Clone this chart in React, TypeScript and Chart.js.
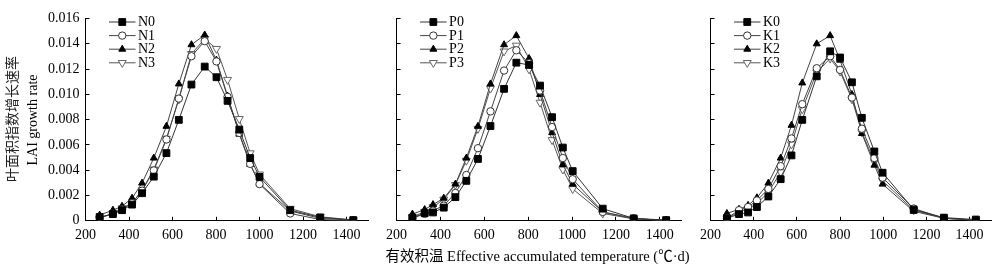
import React, { useEffect, useRef } from "react";
import { Chart, registerables } from "chart.js";
import { drawPoint } from "chart.js/helpers";

Chart.register(...registerables);

// ---------- data ----------
const X_N = [265, 326, 368, 414, 460, 514, 572, 629, 687, 748, 802, 853, 907, 957, 1000, 1141, 1279, 1431];
const N0 = [0.0003, 0.00053, 0.00084, 0.00128, 0.00218, 0.00349, 0.00535, 0.00798, 0.01077, 0.01219, 0.01135, 0.00948, 0.00721, 0.00496, 0.00347, 0.00084, 0.00027, 0.00006];
const N1 = [0.00024, 0.00055, 0.0009, 0.0014, 0.00238, 0.00398, 0.00643, 0.00966, 0.01301, 0.0142, 0.0126, 0.0098, 0.00695, 0.0045, 0.0029, 0.00058, 0.0001, 0.0];
const N2 = [0.00045, 0.00084, 0.00115, 0.00179, 0.00298, 0.00496, 0.00747, 0.01082, 0.01392, 0.01469, 0.0127, 0.00986, 0.00685, 0.00445, 0.00295, 0.00078, 0.00019, 0.00005];
const N3 = [0.0002, 0.0006, 0.001, 0.00139, 0.00242, 0.00407, 0.0065, 0.0096, 0.0132, 0.01438, 0.0136, 0.01115, 0.00806, 0.00535, 0.00367, 0.00096, 0.00032, 0.00006];

const X_P = [272, 328, 366, 415, 468, 518, 571, 628, 690, 746, 804, 854, 909, 958, 1003, 1140, 1281, 1429];
const P0 = [0.00025, 0.0006, 0.00066, 0.00104, 0.00187, 0.00316, 0.00489, 0.00749, 0.01043, 0.0125, 0.01232, 0.01069, 0.00819, 0.00579, 0.00393, 0.00096, 0.00019, 0.00006];
const P1 = [0.0002, 0.00055, 0.0008, 0.0012, 0.0022, 0.00362, 0.00574, 0.00865, 0.01188, 0.01348, 0.01245, 0.0103, 0.00741, 0.00496, 0.00329, 0.0007, 0.0002, 0.0];
const P2 = [0.00053, 0.00089, 0.00128, 0.00179, 0.0029, 0.00496, 0.00747, 0.01082, 0.01392, 0.01464, 0.01283, 0.00999, 0.00697, 0.00445, 0.0029, 0.0007, 0.00015, 0.00005];
const P3 = [0.0003, 0.00072, 0.0011, 0.00169, 0.00285, 0.00476, 0.00728, 0.01046, 0.0134, 0.01386, 0.01198, 0.00935, 0.00639, 0.00406, 0.00252, 0.00058, 0.00015, 0.00005];

const X_K = [276, 332, 374, 415, 468, 525, 575, 625, 692, 754, 800, 855, 901, 959, 997, 1141, 1281, 1429];
const K0 = [0.0002, 0.00053, 0.00066, 0.00109, 0.00192, 0.00329, 0.00517, 0.00798, 0.01142, 0.0134, 0.01291, 0.01095, 0.00814, 0.00548, 0.0038, 0.00089, 0.00025, 0.0001];
const K1 = [0.0002, 0.00084, 0.00109, 0.00161, 0.00252, 0.00432, 0.00651, 0.00922, 0.01206, 0.01301, 0.01193, 0.00974, 0.00728, 0.00496, 0.00341, 0.00097, 0.0002, 0.00005];
const K2 = [0.00058, 0.00091, 0.00122, 0.00182, 0.00298, 0.00496, 0.00755, 0.0109, 0.01399, 0.01464, 0.0127, 0.00999, 0.0069, 0.0044, 0.0029, 0.00075, 0.0002, 0.00005];
const K3 = [0.0002, 0.0007, 0.00096, 0.00137, 0.00225, 0.00385, 0.00605, 0.00883, 0.01173, 0.01283, 0.0118, 0.00961, 0.007, 0.00465, 0.00316, 0.00085, 0.0002, 0.00005];

const NAMES_N = ["N0", "N1", "N2", "N3"];
const NAMES_P = ["P0", "P1", "P2", "P3"];
const NAMES_K = ["K0", "K1", "K2", "K3"];

const X_TICK_STEP = 200;
const Y_TICK_STEP = 0.002;

// ---------- styles ----------
const FONT = "'Liberation Serif', 'Times New Roman', 'Noto Sans CJK SC', serif";
const SERIES_STYLE = [
  { pointStyle: "rect", rotation: 0, radius: 4.8, fill: "#000", stroke: "#000", line: "#333" },
  { pointStyle: "circle", rotation: 0, radius: 3.7, fill: "#fff", stroke: "#333", line: "#444" },
  { pointStyle: "triangle", rotation: 0, radius: 4, fill: "#000", stroke: "#000", line: "#444" },
  { pointStyle: "triangle", rotation: 180, radius: 4.6, fill: "#fff", stroke: "#666", line: "#555" },
];

const TOP = 14.2;
const BOTTOM = 220.8;
const H = 275;

type Panel = {
  canvasLeft: number;
  areaLeft: number;
  areaRight: number;
  xs: number[];
  series: number[][];
  names: string[];
  yLabels: boolean;
};

const PANELS: Panel[] = [
  { canvasLeft: 0, areaLeft: 85.5, areaRight: 368.3, xs: X_N, series: [N0, N1, N2, N3], names: NAMES_N, yLabels: true },
  { canvasLeft: 375, areaLeft: 396.6, areaRight: 681.7, xs: X_P, series: [P0, P1, P2, P3], names: NAMES_P, yLabels: false },
  { canvasLeft: 690, areaLeft: 706.1, areaRight: 991.2, xs: X_K, series: [K0, K1, K2, K3], names: NAMES_K, yLabels: false },
];

const legendPlugin = {
  id: "lineLegend",
  afterDraw(chart: any) {
    const ctx = chart.ctx;
    const left = chart.chartArea.left;
    chart.data.datasets.forEach((ds: any, i: number) => {
      const st = SERIES_STYLE[i];
      const y = 22 + i * 13.6;
      const x1 = left + 23.5;
      const x2 = left + 50;
      ctx.save();
      ctx.strokeStyle = st.line;
      ctx.lineWidth = 1;
      ctx.beginPath();
      ctx.moveTo(x1, y);
      ctx.lineTo(x2, y);
      ctx.stroke();
      ctx.fillStyle = st.fill;
      ctx.strokeStyle = st.stroke;
      drawPoint(ctx, { pointStyle: st.pointStyle, rotation: st.rotation, radius: st.radius, borderWidth: 1 } as any, (x1 + x2) / 2, y);
      ctx.fillStyle = "#000";
      ctx.font = `14px ${FONT}`;
      ctx.textAlign = "left";
      ctx.textBaseline = "middle";
      ctx.fillText(ds.label, x2 + 2.5, y + 0.5);
      ctx.restore();
    });
  },
};

function PanelChart({ panel }: { panel: Panel }) {
  const ref = useRef<HTMLCanvasElement | null>(null);
  const width = Math.round(panel.areaRight - panel.canvasLeft + 12);
  useEffect(() => {
    if (!ref.current) return;
    const yW = panel.areaLeft - panel.canvasLeft;
    const padRight = width - (panel.areaRight - panel.canvasLeft);
    const chart = new Chart(ref.current, {
      type: "line",
      data: {
        datasets: panel.series.map((vals, i) => {
          const st = SERIES_STYLE[i];
          return {
            label: panel.names[i],
            data: panel.xs.map((x, j) => ({ x, y: vals[j] })),
            borderColor: st.line,
            borderWidth: 1,
            pointStyle: st.pointStyle as any,
            pointRotation: st.rotation,
            pointRadius: st.radius,
            pointBackgroundColor: st.fill,
            pointBorderColor: st.stroke,
            pointBorderWidth: 1,
            tension: 0,
            fill: false,
          };
        }),
      },
      options: {
        animation: false,
        responsive: false,
        maintainAspectRatio: false,
        devicePixelRatio: 1,
        layout: { padding: { top: TOP, right: padRight, bottom: 0, left: 0 } },
        plugins: { legend: { display: false }, tooltip: { enabled: false } },
        scales: {
          x: {
            type: "linear",
            min: 200,
            max: 1500,
            ticks: {
              stepSize: X_TICK_STEP,
              includeBounds: false,
              autoSkip: false,
              maxRotation: 0,
              padding: 10,
              color: "#000",
              font: { family: FONT, size: 14 },
              callback: (v: any) => String(Math.round(Number(v))),
            },
            grid: { drawOnChartArea: false, tickLength: -4, color: "#000", lineWidth: 1 },
            border: { color: "#000", width: 1 },
            afterFit: (s: any) => {
              s.height = H - BOTTOM;
            },
          },
          y: {
            type: "linear",
            min: 0,
            max: 0.016,
            ticks: {
              stepSize: Y_TICK_STEP,
              autoSkip: false,
              padding: 10,
              color: "#000",
              font: { family: FONT, size: 14 },
              callback: (v: any) => (panel.yLabels ? (Math.abs(v) < 1e-9 ? "0" : Number(v).toFixed(3)) : ""),
            },
            grid: { drawOnChartArea: false, tickLength: -4, color: "#000", lineWidth: 1 },
            border: { color: "#000", width: 1 },
            afterFit: (s: any) => {
              s.width = yW;
            },
          },
        },
      } as any,
      plugins: [legendPlugin],
    });
    return () => chart.destroy();
  }, [panel, width]);
  return (
    <canvas
      ref={ref}
      width={width}
      height={H}
      style={{ position: "absolute", left: panel.canvasLeft, top: 0, width, height: H }}
    />
  );
}

export default function App() {
  return (
    <div style={{ position: "absolute", left: 0, top: 0, width: 1000, height: 275, background: "#fff", overflow: "hidden" }}>
      {PANELS.map((p, i) => (
        <PanelChart key={i} panel={p} />
      ))}
      <div
        style={{
          position: "absolute",
          left: 13,
          top: 118.5,
          transform: "translate(-50%, -50%) rotate(-90deg)",
          whiteSpace: "nowrap",
          font: `14px ${FONT}`,
          lineHeight: "14px",
          color: "#222",
        }}
      >
        叶面积指数增长速率
      </div>
      <div
        style={{
          position: "absolute",
          left: 33,
          top: 119.5,
          transform: "translate(-50%, -50%) rotate(-90deg)",
          whiteSpace: "nowrap",
          font: `14px ${FONT}`,
          lineHeight: "14px",
          color: "#000",
        }}
      >
        LAI growth rate
      </div>
      <div
        style={{
          position: "absolute",
          left: 537.5,
          top: 256,
          transform: "translate(-50%, -50%)",
          whiteSpace: "nowrap",
          font: `14.5px ${FONT}`,
          lineHeight: "15px",
          color: "#000",
        }}
      >
        有效积温 Effective accumulated temperature (℃·d)
      </div>
    </div>
  );
}
